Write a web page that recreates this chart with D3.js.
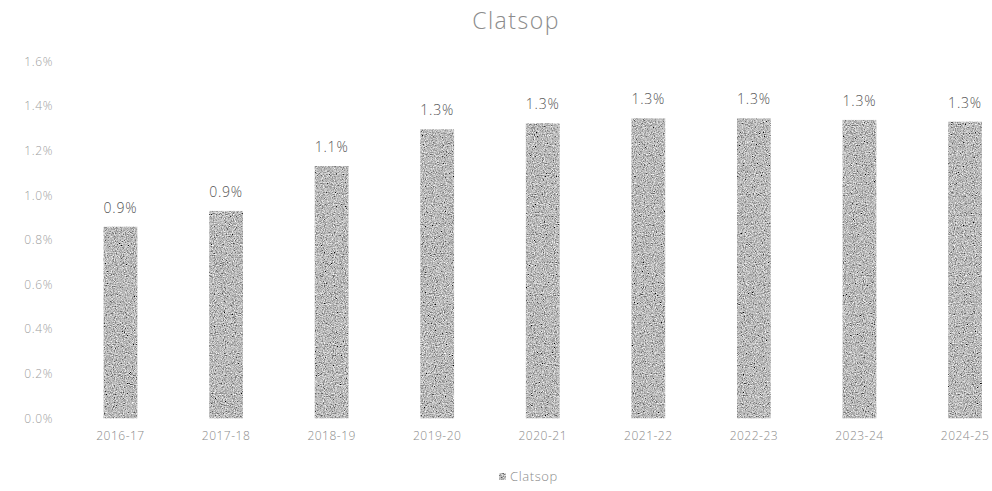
<!DOCTYPE html>
<html>
<head>
<meta charset="utf-8">
<script src="https://cdn.jsdelivr.net/npm/d3@7"></script>
<style>
  body { margin: 0; background: #fff; }
  svg { display: block; font-family: 'Open Sans', 'DejaVu Sans', sans-serif; }
</style>
</head>
<body>
<div id="chart"></div>
<script>
// data
const years = ['2016-17', '2017-18', '2018-19', '2019-20', '2020-21', '2021-22', '2022-23', '2023-24', '2024-25']
const shares = [0.859, 0.930, 1.131, 1.296, 1.323, 1.345, 1.345, 1.338, 1.330]
const yTicks = [0, 0.2, 0.4, 0.6, 0.8, 1.0, 1.2, 1.4, 1.6]
const seriesName = 'Clatsop'

const width = 992
const height = 491

const svg = d3.select('#chart').append('svg')
  .attr('width', width)
  .attr('height', height)

// grainy grey fill like the original bars
const defs = svg.append('defs')
const grain = defs.append('filter')
  .attr('id', 'grain')
  .attr('x', 0).attr('y', 0).attr('width', 1).attr('height', 1)
grain.append('feTurbulence')
  .attr('type', 'fractalNoise')
  .attr('baseFrequency', 0.9)
  .attr('numOctaves', 3)
  .attr('seed', 4)
  .attr('result', 'noise')
grain.append('feColorMatrix')
  .attr('in', 'noise')
  .attr('type', 'matrix')
  .attr('values', '0.33 0.33 0.33 0 0  0.33 0.33 0.33 0 0  0.33 0.33 0.33 0 0  0 0 0 0 1')
  .attr('result', 'gray')
const ct = grain.append('feComponentTransfer').attr('in', 'gray').attr('result', 'contrast')
;['feFuncR', 'feFuncG', 'feFuncB'].forEach(function (f) {
  ct.append(f).attr('type', 'linear').attr('slope', 2.2).attr('intercept', -0.6)
})
grain.append('feComposite')
  .attr('in', 'contrast')
  .attr('in2', 'SourceGraphic')
  .attr('operator', 'in')

const x = d3.scaleBand()
  .domain(years)
  .range([67.7, 1017.8])
  .paddingInner(0.68)
  .paddingOuter(0.34)

const y = d3.scaleLinear()
  .domain([0, 1.6])
  .range([418.3, 61.5])

// title
svg.append('text')
  .attr('x', 516)
  .attr('y', 29)
  .attr('text-anchor', 'middle')
  .attr('font-size', 23)
  .attr('font-weight', 300)
  .attr('letter-spacing', 1.5)
  .attr('fill', '#8c8c8c')
  .text(seriesName)

// y axis (labels only)
const yAxis = svg.append('g')
  .attr('transform', 'translate(53,0)')
  .call(d3.axisLeft(y).tickValues(yTicks).tickSize(0).tickPadding(0)
    .tickFormat(function (d) { return d.toFixed(1) + '%' }))
yAxis.select('.domain').remove()
yAxis.selectAll('text')
  .attr('font-family', "'Open Sans', sans-serif")
  .attr('font-size', 12)
  .attr('font-weight', 300)
  .attr('letter-spacing', 0.6)
  .attr('fill', '#a0a0a0')

// x axis (labels only)
const xAxis = svg.append('g')
  .attr('transform', 'translate(0,418)')
  .call(d3.axisBottom(x).tickSize(0).tickPadding(13))
xAxis.select('.domain').remove()
xAxis.selectAll('text')
  .attr('font-family', "'Open Sans', sans-serif")
  .attr('font-size', 12)
  .attr('font-weight', 300)
  .attr('letter-spacing', 0.5)
  .attr('fill', '#8a8a8a')

// bars
svg.append('g')
  .selectAll('rect')
  .data(shares)
  .enter().append('rect')
  .attr('x', function (d, i) { return x(years[i]) })
  .attr('y', function (d) { return y(d) })
  .attr('width', x.bandwidth())
  .attr('height', function (d) { return y(0) - y(d) })
  .attr('fill', '#999')
  .attr('filter', 'url(#grain)')

// value labels
svg.append('g')
  .selectAll('text')
  .data(shares)
  .enter().append('text')
  .attr('x', function (d, i) { return x(years[i]) + x.bandwidth() / 2 })
  .attr('y', function (d) { return y(d) - 14 })
  .attr('text-anchor', 'middle')
  .attr('font-size', 14)
  .attr('font-weight', 300)
  .attr('letter-spacing', 0.8)
  .attr('fill', '#555')
  .text(function (d) { return d.toFixed(1) + '%' })

// legend
const legend = svg.append('g').attr('transform', 'translate(499,481)')
legend.append('rect')
  .attr('x', 0).attr('y', -8)
  .attr('width', 7).attr('height', 7)
  .attr('fill', '#999')
  .attr('filter', 'url(#grain)')
legend.append('text')
  .attr('x', 11)
  .attr('y', 0)
  .attr('font-size', 13)
  .attr('font-weight', 300)
  .attr('letter-spacing', 0.6)
  .attr('fill', '#8a8a8a')
  .text(seriesName)
</script>
</body>
</html>
